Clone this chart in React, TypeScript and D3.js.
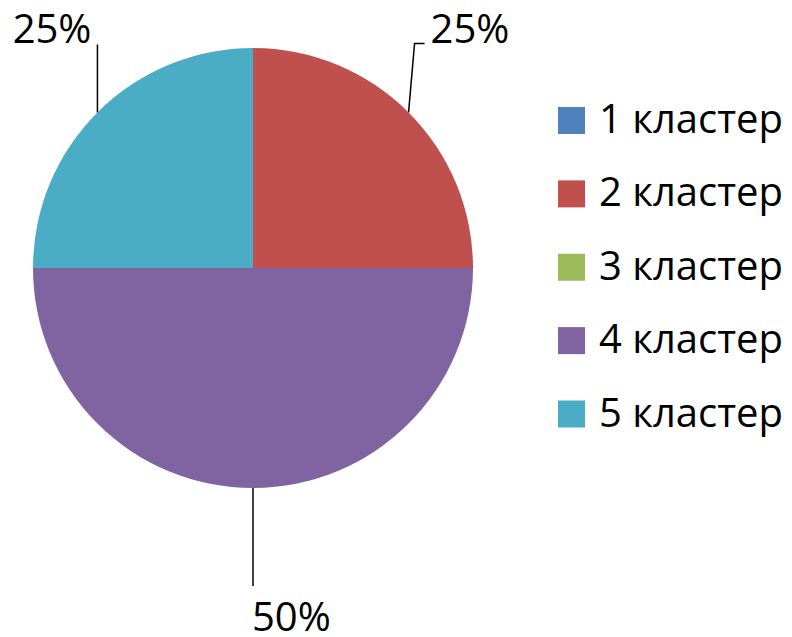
import React from 'react';
import * as d3 from 'd3';

const categories = ['1 кластер', '2 кластер', '3 кластер', '4 кластер', '5 кластер'];
const values = [0, 25, 0, 50, 25];
const colors = ['#4F81BD', '#C0504D', '#9BBB59', '#8064A2', '#4BACC6'];

const W = 792;
const H = 637;
const cx = 253;
const cy = 268;
const R = 220;
const FONT = '"Open Sans", "DejaVu Sans", sans-serif';

// leader line elbow offsets (dx, dy from the slice's outer midpoint) and label anchor
const leaders: Record<number, { elbow: [number, number]; end: [number, number]; anchor: string; tx: number; ty: number }> = {
  1: { elbow: [6, -69], end: [16, -69], anchor: 'start', tx: 6, ty: 0 },
  3: { elbow: [0, 98], end: [0, 98], anchor: 'start', tx: -1, ty: 45 },
  4: { elbow: [0, -68], end: [0, -68], anchor: 'end', tx: -6, ty: -1 },
};

const App = () => {
  const pie = d3.pie<number>().sort(null).value(d => d);
  const arcs = pie(values);
  const arcGen = d3.arc<d3.PieArcDatum<number>>().innerRadius(0).outerRadius(R);
  const total = d3.sum(values);

  const legendY = d3.scalePoint<string>().domain(categories).range([120.5, 414]);

  return (
    <svg width={W} height={H} style={{ position: 'absolute', left: 0, top: 0, background: '#fff' }}>
      <g transform={`translate(${cx},${cy})`}>
        {arcs.map((a, i) => (
          <path key={i} d={arcGen(a) || ''} fill={colors[i]} />
        ))}
        {arcs.map((a, i) => {
          if (a.value === 0) return null;
          const mid = (a.startAngle + a.endAngle) / 2;
          const px = Math.sin(mid) * R;
          const py = -Math.cos(mid) * R;
          const l = leaders[i];
          const ex = px + l.elbow[0];
          const ey = py + l.elbow[1];
          const fx = px + l.end[0];
          const fy = py + l.end[1];
          const pct = d3.format('.0%')(a.value / total);
          return (
            <g key={'l' + i}>
              <polyline points={`${px},${py} ${ex},${ey} ${fx},${fy}`} fill="none" stroke="#000" strokeWidth={1.5} />
              <text x={fx + l.tx} y={fy + l.ty} textAnchor={l.anchor} fontFamily={FONT} fontSize={40} fill="#000">
                {pct}
              </text>
            </g>
          );
        })}
      </g>
      <g>
        {categories.map((c, i) => {
          const y = legendY(c) as number;
          return (
            <g key={c}>
              <rect x={558} y={y - 13.5} width={27} height={27} fill={colors[i]} />
              <text x={599} y={y + 12.5} fontFamily={FONT} fontSize={40} fill="#000">
                {c}
              </text>
            </g>
          );
        })}
      </g>
    </svg>
  );
};

export default App;
